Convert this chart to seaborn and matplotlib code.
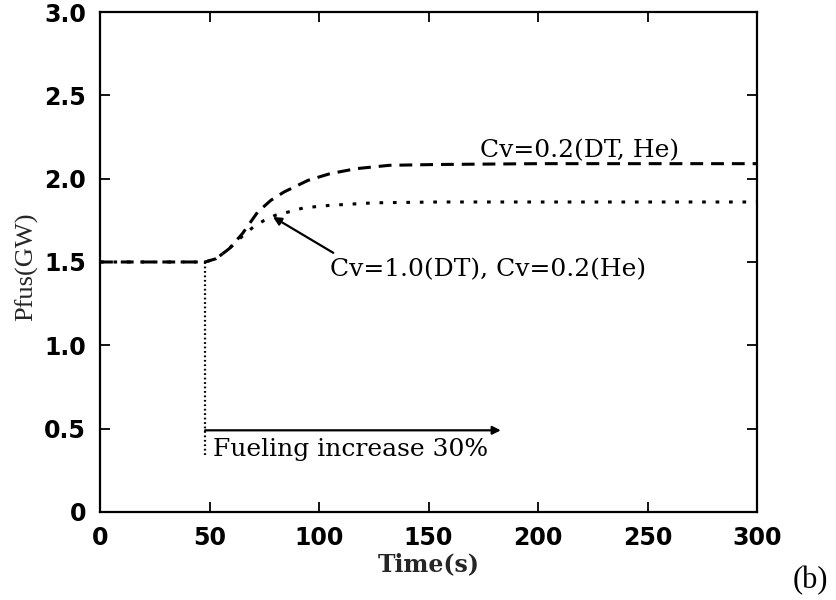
import matplotlib
matplotlib.use("Agg")
import matplotlib.pyplot as plt
import seaborn as sns
import pandas as pd

# ---- data ----
time_a = [0, 20, 40, 48, 53, 59, 65, 72, 78, 84, 95, 105, 117, 132, 154, 200, 250, 300]
pfus_a = [1.50, 1.50, 1.50, 1.50, 1.52, 1.58, 1.67, 1.80, 1.87, 1.92, 1.99, 2.03, 2.06,
          2.08, 2.085, 2.09, 2.09, 2.09]          # Cv=0.2(DT, He)

time_b = [0, 20, 40, 48, 53, 59, 65, 70, 75, 80, 86, 93, 105, 125, 154, 200, 250, 300]
pfus_b = [1.50, 1.50, 1.50, 1.50, 1.52, 1.58, 1.655, 1.71, 1.75, 1.78, 1.80, 1.825,
          1.84, 1.855, 1.86, 1.86, 1.86, 1.86]    # Cv=1.0(DT), Cv=0.2(He)

x_ticks = [0, 50, 100, 150, 200, 250, 300]
x_tick_labels = ["0", "50", "100", "150", "200", "250", "300"]
y_ticks = [0, 0.5, 1.0, 1.5, 2.0, 2.5, 3.0]
y_tick_labels = ["0", "0.5", "1.0", "1.5", "2.0", "2.5", "3.0"]

fuel_time = 48
fuel_arrow_end = 183

df_a = pd.DataFrame({"t": time_a, "p": pfus_a})
df_b = pd.DataFrame({"t": time_b, "p": pfus_b})

sns.set_theme(style="ticks")
plt.rcParams["font.family"] = ["DejaVu Sans"]

fig = plt.figure(figsize=(8.37, 6.0), dpi=100)
ax = fig.add_axes([0.1195, 0.1467, 0.785, 0.8333])

sns.lineplot(data=df_b, x="t", y="p", ax=ax, color="black", linewidth=2.2,
             estimator=None).lines[-1].set_dashes((1.2, 3.2))
sns.lineplot(data=df_a, x="t", y="p", ax=ax, color="black", linewidth=2.2,
             estimator=None).lines[-1].set_dashes((4.2, 2.6))

# vertical dotted marker at the fueling step
ax.plot([fuel_time, fuel_time], [0.34, 1.5], color="black", linewidth=1.6,
        dashes=(0.8, 1.2))
# horizontal arrow
ax.annotate("", xy=(fuel_arrow_end, 0.49), xytext=(fuel_time, 0.49),
            arrowprops=dict(arrowstyle="-|>", color="black", lw=1.6,
                            mutation_scale=12, shrinkA=0, shrinkB=0))

serif = ["DejaVu Serif"]
ax.text(51.5, 0.375, "Fueling increase 30%", fontsize=18, family=serif,
        ha="left", va="center", color="black")
ax.text(173.5, 2.17, "Cv=0.2(DT, He)", fontsize=18, family=serif,
        ha="left", va="center", color="black")
ax.text(105, 1.455, "Cv=1.0(DT), Cv=0.2(He)", fontsize=18, family=serif,
        ha="left", va="center", color="black")
ax.annotate("", xy=(79, 1.77), xytext=(106.5, 1.555),
            arrowprops=dict(arrowstyle="-|>", color="black", lw=1.6,
                            mutation_scale=12, shrinkA=0, shrinkB=0))

ax.set_xlim(0, 300)
ax.set_ylim(0, 3.0)
ax.set_xticks(x_ticks)
ax.set_xticklabels(x_tick_labels)
ax.set_yticks(y_ticks)
ax.set_yticklabels(y_tick_labels)
ax.tick_params(axis="both", direction="in", length=7, width=1.3,
               top=True, right=True, labelsize=17, pad=10, colors="black")
for lab in ax.get_xticklabels() + ax.get_yticklabels():
    lab.set_fontweight("bold")
for sp in ax.spines.values():
    sp.set_visible(True)
    sp.set_linewidth(1.6)
    sp.set_color("black")

ax.set_xlabel("Time(s)", fontsize=17, family=serif, fontweight="bold", labelpad=2)
ax.set_ylabel("Pfus(GW)", fontsize=19, family=["Liberation Serif"], labelpad=6)
ax.yaxis.set_label_coords(-0.094, 0.49)

fig.text(0.968, 0.033, "(b)", fontsize=22, family=["Liberation Serif"],
         ha="center", va="center", color="black")

fig.savefig("out.png", dpi=100, facecolor="white")
